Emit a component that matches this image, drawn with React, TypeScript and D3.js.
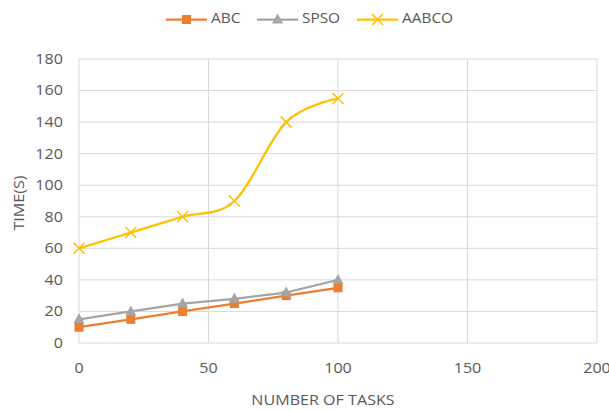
import React from "react";
import * as d3 from "d3";

const tasks = [0, 20, 40, 60, 80, 100];
const abc = [10, 15, 20, 25, 30, 35];
const spso = [15, 20, 25, 28, 32, 40];
const aabco = [60, 70, 80, 90, 140, 155];
const xTicks = [0, 50, 100, 150, 200];
const yTicks = [0, 20, 40, 60, 80, 100, 120, 140, 160, 180];

const W = 609;
const H = 410;
const left = 79;
const right = 597;
const top = 59;
const bottom = 343;
const font = "'Open Sans', 'Liberation Sans', sans-serif";
const textColor = "#595959";

const series = [
  { name: "ABC", values: abc, color: "#ED7D31", marker: "square", smooth: false },
  { name: "SPSO", values: spso, color: "#A5A5A5", marker: "triangle", smooth: false },
  { name: "AABCO", values: aabco, color: "#FFC000", marker: "cross", smooth: true },
];

function Marker({ type, x, y, color }: { type: string; x: number; y: number; color: string }) {
  if (type === "square") {
    return <rect x={x - 4.5} y={y - 4.5} width={9} height={9} fill={color} />;
  }
  if (type === "triangle") {
    return <path d={`M${x},${y - 6}L${x + 5.5},${y + 4}L${x - 5.5},${y + 4}Z`} fill={color} />;
  }
  return (
    <path
      d={`M${x - 5.5},${y - 5.5}L${x + 5.5},${y + 5.5}M${x - 5.5},${y + 5.5}L${x + 5.5},${y - 5.5}`}
      stroke={color}
      strokeWidth={1.5}
    />
  );
}

// Wide, slightly condensed-height labels
const stretch = (cx: number, cy: number) => `translate(${cx},${cy}) scale(1.15,1) translate(${-cx},${-cy})`;

export default function App() {
  const x = d3.scaleLinear().domain([0, 200]).range([left, right]);
  const y = d3.scaleLinear().domain([0, 180]).range([bottom, top]);

  const legendItems = [
    { s: series[0], x0: 166 },
    { s: series[1], x0: 257 },
    { s: series[2], x0: 357 },
  ];
  const ly = 19.5;

  return (
    <svg width={W} height={H} style={{ position: "absolute", left: 0, top: 0, background: "#fff" }}>
      {/* gridlines */}
      {yTicks.map((t) => (
        <line key={"gy" + t} x1={left} x2={right} y1={y(t)} y2={y(t)} stroke="#D9D9D9" strokeWidth={1} />
      ))}
      {xTicks.map((t) => (
        <line key={"gx" + t} x1={x(t)} x2={x(t)} y1={top} y2={bottom} stroke="#D9D9D9" strokeWidth={1} />
      ))}

      {/* tick labels */}
      {yTicks.map((t) => (
        <text
          key={"ty" + t}
          x={63}
          y={y(t)}
          dy="0.35em"
          textAnchor="end"
          fontFamily={font}
          fontSize={14}
          fill={textColor}
          transform={stretch(63, y(t))}
        >
          {t}
        </text>
      ))}
      {xTicks.map((t) => (
        <text
          key={"tx" + t}
          x={x(t)}
          y={368}
          dy="0.35em"
          textAnchor="middle"
          fontFamily={font}
          fontSize={14}
          fill={textColor}
          transform={stretch(x(t), 368)}
        >
          {t}
        </text>
      ))}

      {/* axis titles */}
      <text
        transform={`translate(19,${(top + bottom) / 2 + 2}) rotate(-90) scale(1.15,1)`}
        textAnchor="middle"
        dy="0.35em"
        fontFamily={font}
        fontSize={14}
        fill={textColor}
      >
        TIME(S)
      </text>
      <text
        x={323}
        y={400}
        dy="0.35em"
        textAnchor="middle"
        fontFamily={font}
        fontSize={14}
        fill={textColor}
        transform={stretch(323, 400)}
      >
        NUMBER OF TASKS
      </text>

      {/* series */}
      {series.map((s) => {
        const line = d3
          .line<number>()
          .x((_, i) => x(tasks[i]))
          .y((v) => y(v))
          .curve(s.smooth ? d3.curveCardinal.tension(0) : d3.curveLinear);
        return (
          <g key={s.name}>
            <path d={line(s.values) || ""} fill="none" stroke={s.color} strokeWidth={2.25} strokeLinejoin="round" />
            {s.values.map((v, i) => (
              <Marker key={i} type={s.marker} x={x(tasks[i])} y={y(v)} color={s.color} />
            ))}
          </g>
        );
      })}

      {/* legend */}
      {legendItems.map(({ s, x0 }) => (
        <g key={"lg" + s.name}>
          <line x1={x0} x2={x0 + 41} y1={ly} y2={ly} stroke={s.color} strokeWidth={2.25} />
          <Marker type={s.marker} x={x0 + 20.5} y={ly} color={s.color} />
          <text
            x={x0 + 45}
            y={ly - 1}
            dy="0.35em"
            fontFamily={font}
            fontSize={14}
            fill={textColor}
            transform={`translate(${x0 + 45},0) scale(1.1,1) translate(${-(x0 + 45)},0)`}
          >
            {s.name}
          </text>
        </g>
      ))}
    </svg>
  );
}
